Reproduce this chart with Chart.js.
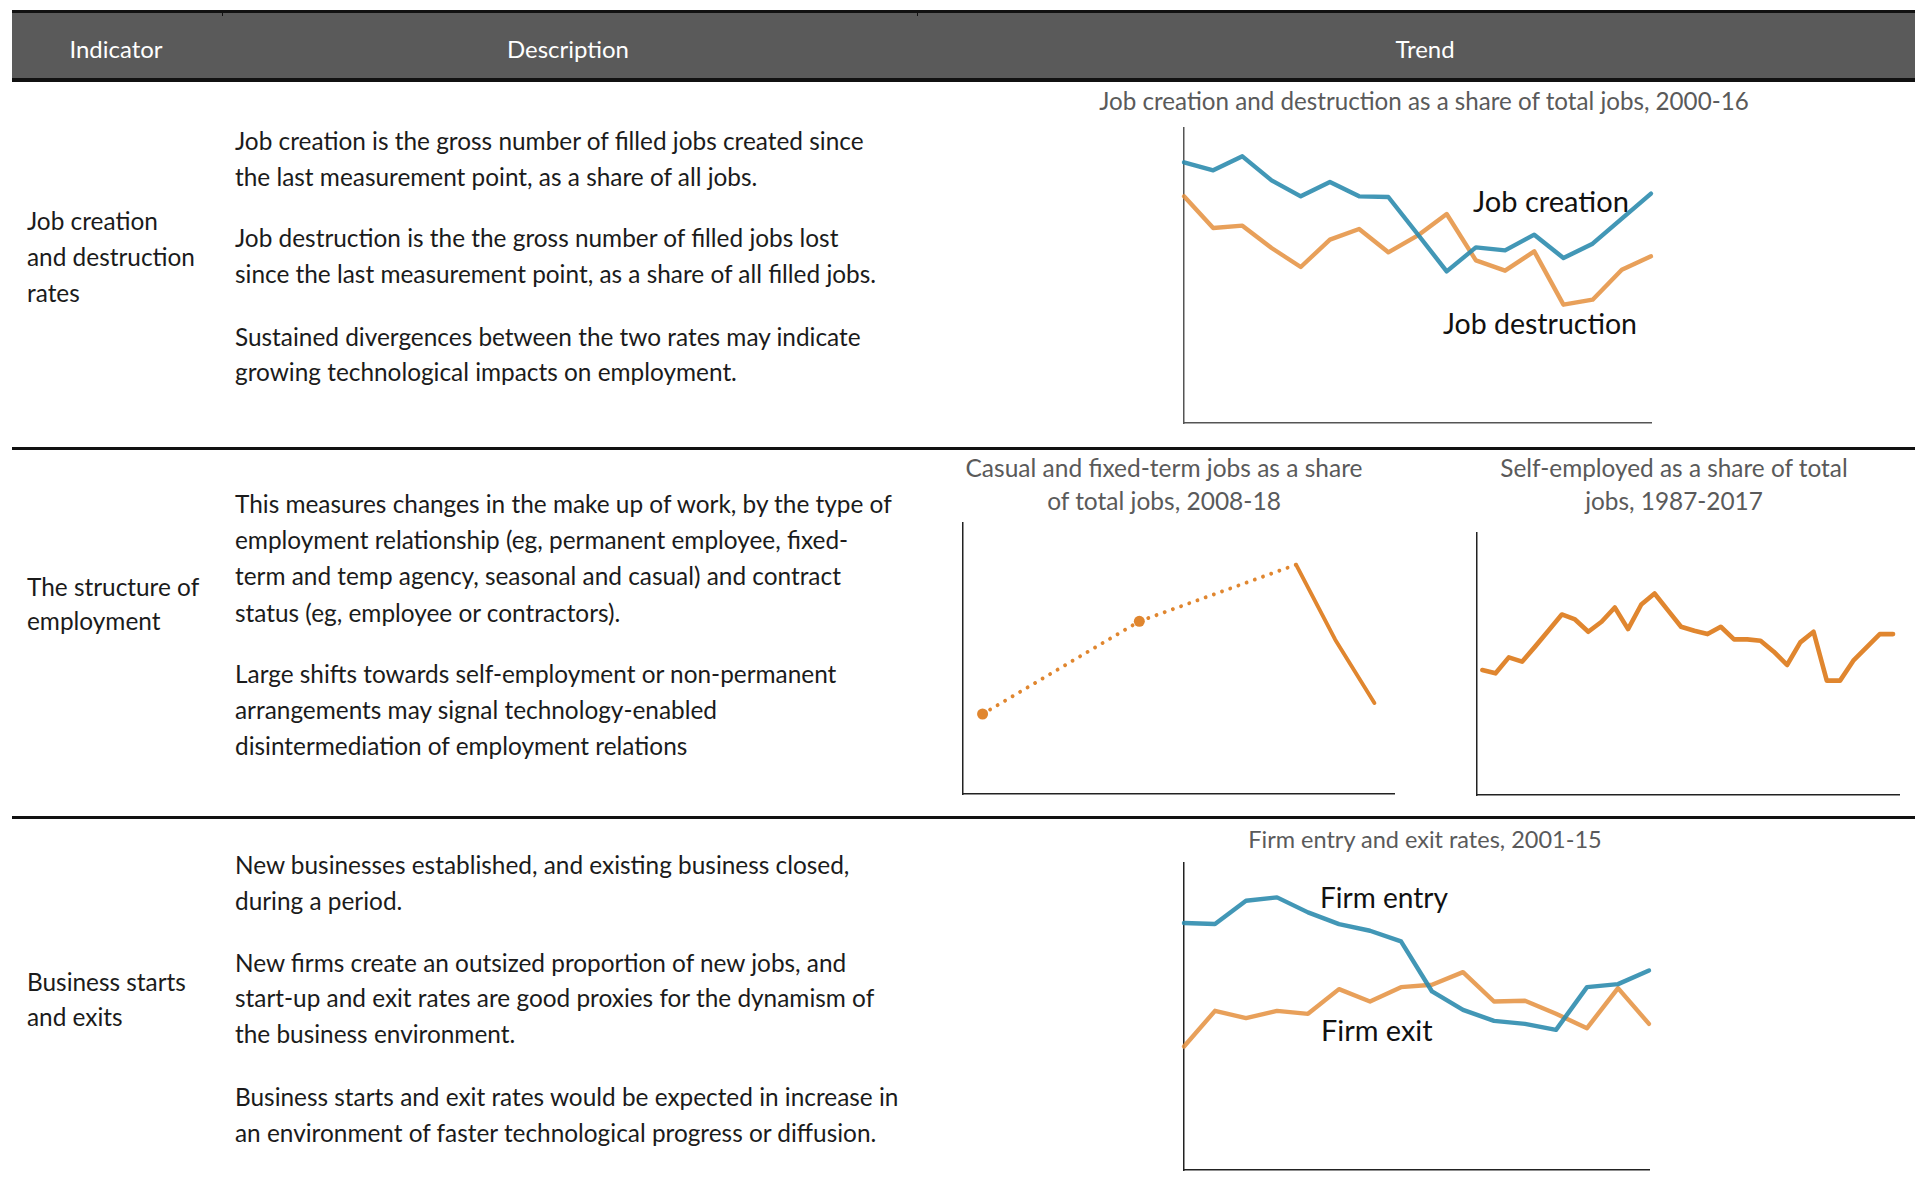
<!DOCTYPE html>
<html>
<head>
<meta charset="utf-8">
<title>Indicators of technology and work</title>
<script src="https://cdn.jsdelivr.net/npm/chart.js@4.4.0/dist/chart.umd.min.js"></script>
<style>
  html, body { margin: 0; padding: 0; background: #fff; }
  #page { position: relative; width: 1915px; height: 1189px; overflow: hidden; font-family: Lato, "Open Sans", sans-serif; }
  .line { position: absolute; white-space: nowrap; height: 36px; line-height: 36px; }
  .centered { width: 800px; text-align: center; }
  .body { color: #1b1b1b; }
  .head { color: #fff; }
  .title { color: #5a5a5a; }
  .label { color: #111; }
  .rule { position: absolute; background: #111; }
  .chart { position: absolute; z-index: 2; }
</style>
</head>
<body>
<div id="page">
  <div class="rule" style="left:12px;top:10px;width:1903px;height:3px"></div>
  <div style="position:absolute;left:12px;top:13px;width:1903px;height:65px;background:#5a5a5a"></div>
  <div class="rule" style="left:12px;top:78px;width:1903px;height:4px"></div>
  <div class="rule" style="left:222px;top:13px;width:1px;height:3px"></div>
  <div class="rule" style="left:917px;top:13px;width:1px;height:3px"></div>
  <div class="rule" style="left:12px;top:447px;width:1903px;height:2.5px"></div>
  <div class="rule" style="left:12px;top:816px;width:1903px;height:2.5px"></div>
</div>
<script>
'use strict';

// ---- data (no axis units shown) ----
const creationYears = [2000, 2001, 2002, 2003, 2004, 2005, 2006, 2007, 2008, 2009, 2010, 2011, 2012, 2013, 2014, 2015, 2016];
const jobCreation = [78.2, 75.8, 80.0, 72.8, 68.0, 72.3, 68.0, 67.8, 56.7, 45.5, 52.7, 51.8, 56.5, 49.5, 53.8, 61.3, 68.8];
const jobDestruction = [68.0, 58.5, 59.2, 52.5, 46.8, 55.0, 58.2, 51.2, 56.2, 62.7, 48.8, 45.7, 51.5, 35.5, 37.0, 46.0, 50.0];

const casualYears = [2008, 2012, 2016, 2017, 2018];
const casualShare = [24.0, 51.8, 68.8, 46.3, 27.3];
const casualSurveyPoint = [true, true, false, false, false];
const casualDottedUntil = 2016;

const selfYears = [1986, 1987, 1988, 1989, 1990, 1991, 1992, 1993, 1994, 1995, 1996, 1997, 1998, 1999, 2000, 2001,
  2002, 2003, 2004, 2005, 2006, 2007, 2008, 2009, 2010, 2011, 2012, 2013, 2014, 2015, 2016, 2017];
const selfShare = [37.6, 36.6, 41.4, 40.1, 44.7, 49.5, 54.3, 52.8, 49.1, 52.1, 56.4, 49.9, 57.3, 60.6, 55.6, 50.6,
  49.4, 48.4, 50.6, 46.8, 46.8, 46.4, 43.1, 39.1, 45.9, 49.1, 34.4, 34.4, 40.4, 44.4, 48.4, 48.4];

const firmYears = [2000, 2001, 2002, 2003, 2004, 2005, 2006, 2007, 2008, 2009, 2010, 2011, 2012, 2013, 2014, 2015];
const firmEntry = [74.0, 73.7, 80.7, 81.7, 77.2, 73.7, 71.7, 68.5, 53.5, 48.0, 44.7, 43.8, 42.0, 54.8, 55.7, 59.8];
const firmExit = [37.0, 47.7, 45.5, 47.7, 46.8, 54.2, 50.5, 54.8, 55.5, 59.3, 50.5, 50.7, 46.8, 42.5, 54.5, 43.8];

const BLUE = 'rgba(46,140,174,0.9)';
const LIGHT_ORANGE = 'rgba(228,143,61,0.85)';
const ORANGE = '#e0862f';

const page = document.getElementById('page');
const measureCtx = document.createElement('canvas').getContext('2d');

// font size that makes a line as wide as it is in the picture
function sizeFor(text, target) {
  measureCtx.font = '400 20px Lato';
  return 20 * target / measureCtx.measureText(text).width;
}

function addLine(cls, text, x, cy, size, centered) {
  const el = document.createElement('div');
  el.className = 'line ' + cls + (centered ? ' centered' : '');
  el.textContent = text;
  el.style.top = (cy - 18) + 'px';
  el.style.left = (centered ? x - 400 : x) + 'px';
  el.style.fontSize = size.toFixed(2) + 'px';
  page.appendChild(el);
}

// averaged over a few body lines, Lato runs a touch wide on the long ones
const bodySize = (sizeFor('Job creation is the gross number of filled jobs created since', 635) +
  sizeFor('This measures changes in the make up of work, by the type of', 656) +
  sizeFor('Business starts and exit rates would be expected in increase in', 661)) / 3;
const headSize = sizeFor('Description', 122);

// header
addLine('head', 'Indicator', 116, 49, headSize, true);
addLine('head', 'Description', 568, 49, headSize, true);
addLine('head', 'Trend', 1425, 49, headSize, true);

// indicator column
[['Job creation', 221], ['and destruction', 256.5], ['rates', 292.5],
 ['The structure of', 587], ['employment', 620.5],
 ['Business starts', 981.5], ['and exits', 1017]].forEach(function(l) {
  addLine('body', l[0], 27, l[1], bodySize);
});

// description column
[
  ['Job creation is the gross number of filled jobs created since', 141.3],
  ['the last measurement point, as a share of all jobs.', 177.4],
  ['Job destruction is the the gross number of filled jobs lost', 238.4],
  ['since the last measurement point, as a share of all filled jobs.', 274.3],
  ['Sustained divergences between the two rates may indicate', 336.6],
  ['growing technological impacts on employment.', 372.2],
  ['This measures changes in the make up of work, by the type of', 504.3],
  ['employment relationship (eg, permanent employee, fixed-', 539.8],
  ['term and temp agency, seasonal and casual) and contract', 576.3],
  ['status (eg, employee or contractors).', 613],
  ['Large shifts towards self-employment or non-permanent', 673.8],
  ['arrangements may signal technology-enabled', 709.8],
  ['disintermediation of employment relations', 746],
  ['New businesses established, and existing business closed,', 865.3],
  ['during a period.', 901],
  ['New firms create an outsized proportion of new jobs, and', 962.5],
  ['start-up and exit rates are good proxies for the dynamism of', 998.3],
  ['the business environment.', 1034],
  ['Business starts and exit rates would be expected in increase in', 1097],
  ['an environment of faster technological progress or diffusion.', 1132.7]
].forEach(function(l) {
  addLine('body', l[0], 235, l[1], bodySize);
});

// chart titles
function addTitle(lines, cx) {
  const size = sizeFor(lines[0][0], lines[0][2]);
  lines.forEach(function(l) { addLine('title', l[0], cx, l[1], size, true); });
}
addTitle([['Job creation and destruction as a share of total jobs, 2000-16', 101, 650]], 1424);
addTitle([['Casual and fixed-term jobs as a share', 468, 397], ['of total jobs, 2008-18', 501]], 1164);
addTitle([['Self-employed as a share of total', 468, 348], ['jobs, 1987-2017', 501]], 1674);
addTitle([['Firm entry and exit rates, 2001-15', 839, 354]], 1425);

// series labels (sit under the lines)
[['Job creation', 1473, 200.7, 156], ['Job destruction', 1443, 323.3, 194],
 ['Firm entry', 1320, 897, 128], ['Firm exit', 1321, 1030, 111.6]].forEach(function(l) {
  addLine('label', l[0], l[1], l[2], sizeFor(l[0], l[3]));
});

function points(xs, ys) {
  return xs.map(function(x, i) { return { x: x, y: ys[i] }; });
}

function lineChart(box, datasets, xMin, xMax, yMax, axisColor) {
  const pad = 8;
  const canvas = document.createElement('canvas');
  canvas.className = 'chart';
  canvas.width = Math.round(box.w + 2 * pad);
  canvas.height = Math.round(box.h + 2 * pad);
  canvas.style.left = (box.x - pad) + 'px';
  canvas.style.top = (box.y - pad) + 'px';
  canvas.style.width = canvas.width + 'px';
  canvas.style.height = canvas.height + 'px';
  page.appendChild(canvas);

  const axis = function() {
    return {
      display: true,
      ticks: { display: false },
      grid: { display: false, drawTicks: false },
      border: { display: true, color: axisColor, width: 1.5 }
    };
  };
  const xScale = Object.assign(axis(), { type: 'linear', min: xMin, max: xMax });
  const yScale = Object.assign(axis(), { min: 0, max: yMax });

  return new Chart(canvas.getContext('2d'), {
    type: 'line',
    data: { datasets: datasets },
    options: {
      responsive: false,
      animation: false,
      devicePixelRatio: 1,
      layout: { padding: pad },
      plugins: { legend: { display: false }, tooltip: { enabled: false } },
      scales: { x: xScale, y: yScale },
      elements: {
        point: { radius: 0 },
        line: { tension: 0, borderJoinStyle: 'round', borderCapStyle: 'round' }
      }
    }
  });
}

// Job creation and destruction
lineChart({ x: 1184, y: 128, w: 467, h: 295 }, [
  { data: points(creationYears, jobCreation), borderColor: BLUE, borderWidth: 4.4, clip: false },
  { data: points(creationYears, jobDestruction), borderColor: LIGHT_ORANGE, borderWidth: 4.4, clip: false }
], 2000, 2016, 88.5, '#555');

// Casual and fixed-term
lineChart({ x: 963, y: 523, w: 431, h: 271 }, [
  {
    data: points(casualYears, casualShare),
    borderColor: ORANGE,
    borderWidth: 3.9,
    clip: false,
    pointRadius: casualSurveyPoint.map(function(p) { return p ? 5.5 : 0; }),
    pointBackgroundColor: ORANGE,
    pointBorderWidth: 0,
    segment: {
      borderDash: function(ctx) { return ctx.p1.parsed.x <= casualDottedUntil ? [0.01, 8.7] : undefined; }
    }
  }
], 2007.5, 2018.5, 81.3, '#222');

// Self-employed
lineChart({ x: 1477, y: 533, w: 422, h: 262 }, [
  { data: points(selfYears, selfShare), borderColor: ORANGE, borderWidth: 4.6, clip: false }
], 1985.6, 2017.45, 78.8, '#222');

// Firm entry and exit
lineChart({ x: 1184, y: 863, w: 465, h: 307 }, [
  { data: points(firmYears, firmEntry), borderColor: BLUE, borderWidth: 4.4, clip: false },
  { data: points(firmYears, firmExit), borderColor: LIGHT_ORANGE, borderWidth: 4.4, clip: false }
], 2000, 2015, 92.0, '#222');
</script>
</body>
</html>
